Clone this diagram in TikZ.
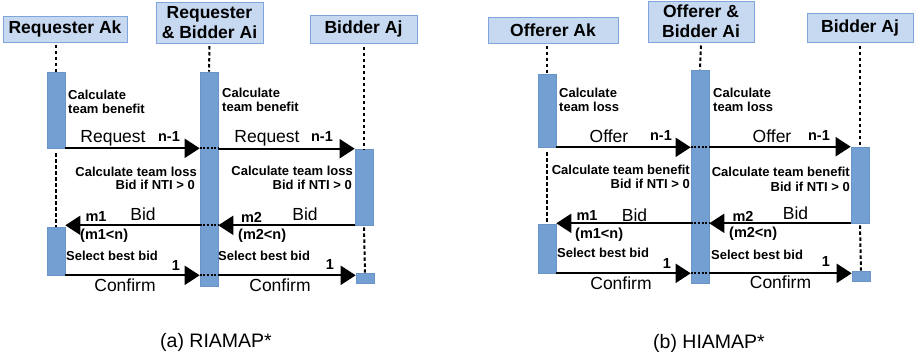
\documentclass[tikz,border=0pt]{standalone}
\usepackage{fontspec}
\setmainfont{Liberation Sans}
\usetikzlibrary{arrows.meta}
\definecolor{hdrfill}{HTML}{C6D9F1}
\definecolor{hdrdraw}{HTML}{7EA6DA}
\definecolor{barfill}{HTML}{739FD2}
\definecolor{bardraw}{HTML}{6A93C8}
\newcommand{\fs}[1]{\fontsize{#1}{#1}\selectfont}
\tikzset{
  hdr/.style={draw=hdrdraw, fill=hdrfill, line width=1pt, inner sep=0pt, align=center,
    font=\fontsize{17.5}{20}\selectfont\bfseries},
  bar/.style={draw=bardraw, fill=barfill, line width=0.6pt, inner sep=0pt, minimum width=18pt},
  life/.style={line width=2pt, dash pattern=on 3.5pt off 2.5pt},
  msg/.style={line width=1.8pt, -{Triangle[length=15pt,width=19pt]}},
  dots/.style={line width=2pt, dash pattern=on 2pt off 1.6pt},
  lbl/.style={inner sep=0pt, font=\fs{17.5}},
  tag/.style={inner sep=0pt, font=\fs{14.5}\bfseries},
  note/.style={inner sep=0pt, font=\fontsize{13}{14}\selectfont\bfseries},
  captext/.style={inner sep=0pt, font=\fs{19.5}},
}
\begin{document}
\begin{tikzpicture}[x=1pt,y=-1pt]
\useasboundingbox (0,0) rectangle (917,360);
% ================= panel (a) =================
\node[hdr, minimum width=124pt, minimum height=26pt] (hak) at (65,29) {Requester Ak};
\node[hdr, minimum width=107pt, minimum height=41pt] (hai) at (209.5,23) {Requester\\\& Bidder Ai};
\node[hdr, minimum width=107pt, minimum height=28pt] (haj) at (363.5,29) {Bidder Aj};
\node[bar, minimum height=76pt] (akb1) at (56,110) {};
\node[bar, minimum height=48pt] (akb2) at (56,251) {};
\node[bar, minimum height=214pt] (aib) at (209,179) {};
\node[bar, minimum height=76pt] (ajb) at (364,187) {};
\node[bar, minimum height=10pt] (ajs) at (365,278) {};
% lifelines
\draw[life] (akb1.north |- hak.south) ++(0,2) -- (akb1.north);
\draw[life] (akb1.south) ++(0,5) -- (akb2.north);
\draw[life] (hai.south) ++(0,2) -- (aib.north);
\draw[life] (ajb.north |- haj.south) ++(0,3) -- (ajb.north);
\draw[life] (ajb.south) ++(0,2) -- (ajs.north);
% messages
\draw[msg] (akb1.south east) -- (aib.west |- akb1.south east);
\draw[dots] (aib.west |- akb1.south) -- (aib.east |- akb1.south);
\draw[msg] (aib.east |- ajb.north) -- (ajb.north west);
\draw[msg] (ajb.south west) -- (aib.east |- ajb.south);
\draw[dots] (aib.west |- ajb.south) -- (aib.east |- ajb.south);
\draw[msg] (aib.west |- ajb.south) -- (akb2.east |- ajb.south);
\draw[msg] (akb2.south east) -- (aib.west |- akb2.south);
\draw[dots] (aib.west |- akb2.south) -- (aib.east |- akb2.south);
\draw[msg] (aib.east |- akb2.south) -- (ajs.west |- akb2.south);
% labels
\node[note, align=left, anchor=west] (ta1) at (68,101.5) {Calculate\\team benefit};
\node[note, align=left, anchor=west] (ta2) at (222,99.5) {Calculate\\team benefit};
\node[lbl] (ra1) at (113,138) {Request};
\node[tag] (na1) at (169,137) {n-1};
\node[lbl] (ra2) at (267,138) {Request};
\node[tag] (na2) at (322,137) {n-1};
\node[note, anchor=east] (la1) at (197,172) {Calculate team loss};
\node[note, anchor=east] (ba1) at (195,185) {Bid if NTI > 0};
\node[note, anchor=east] (la2) at (353,171) {Calculate team loss};
\node[note, anchor=east] (ba2) at (352,185) {Bid if NTI > 0};
\node[lbl] (bd1) at (143,214) {Bid};
\node[tag] (m1) at (96,217) {m1};
\node[tag, anchor=west] (c1) at (80,236) {(m1<n)};
\node[lbl] (bd2) at (305,214) {Bid};
\node[tag] (m2) at (251.5,217) {m2};
\node[tag, anchor=west] (c2) at (238,236) {(m2<n)};
\node[note, anchor=west] (s1) at (66,256) {Select best bid};
\node[note, anchor=west] (s2) at (218,256) {Select best bid};
\node[tag] (o1) at (176,266) {1};
\node[tag] (o2) at (330,265) {1};
\node[lbl] (cf1) at (125,285) {Confirm};
\node[lbl] (cf2) at (280,285) {Confirm};
\node[captext] (capa) at (216,342) {(a) RIAMAP*};
% ================= panel (b) =================
\node[hdr, minimum width=130pt, minimum height=26pt] (hok) at (553,30) {Offerer Ak};
\node[hdr, minimum width=106pt, minimum height=41pt] (hoi) at (701,21.5) {Offerer \&\\Bidder Ai};
\node[hdr, minimum width=106pt, minimum height=29pt] (hbj) at (860,27.5) {Bidder Aj};
\node[bar, minimum height=73pt] (okb1) at (547,110.5) {};
\node[bar, minimum height=49pt] (okb2) at (547,248.5) {};
\node[bar, minimum height=213pt] (oib) at (700,176.5) {};
\node[bar, minimum height=76pt] (bjb) at (860,185) {};
\node[bar, minimum height=10pt] (bjs) at (861,276) {};
% lifelines
\draw[life] (okb1.north |- hok.south) ++(0,2) -- (okb1.north);
\draw[life] (okb1.south) ++(0,5) -- (okb2.north);
\draw[life] (hoi.south) ++(0,3) -- (oib.north);
\draw[life] (bjb.north |- hbj.south) ++(0,3) -- (bjb.north);
\draw[life] (bjb.south) ++(0,2) -- (bjs.north);
% messages
\draw[msg] (okb1.south east) -- (oib.west |- okb1.south east);
\draw[dots] (oib.west |- okb1.south) -- (oib.east |- okb1.south);
\draw[msg] (oib.east |- bjb.north) -- (bjb.north west);
\draw[msg] (bjb.south west) -- (oib.east |- bjb.south);
\draw[dots] (oib.west |- bjb.south) -- (oib.east |- bjb.south);
\draw[msg] (oib.west |- bjb.south) -- (okb2.east |- bjb.south);
\draw[msg] (okb2.south east) -- (oib.west |- okb2.south);
\draw[dots] (oib.west |- okb2.south) -- (oib.east |- okb2.south);
\draw[msg] (oib.east |- okb2.south) -- (bjs.west |- okb2.south);
% labels
\node[note, align=left, anchor=west] (tb1) at (559,100) {Calculate\\team loss};
\node[note, align=left, anchor=west] (tb2) at (713,99.5) {Calculate\\team loss};
\node[lbl] (of1) at (609,136) {Offer};
\node[tag] (nb1) at (661,136) {n-1};
\node[lbl] (of2) at (772,136) {Offer};
\node[tag] (nb2) at (819,136) {n-1};
\node[note, anchor=east] (lb1) at (690,170) {Calculate team benefit};
\node[note, anchor=east] (bb1) at (690,184) {Bid if NTI > 0};
\node[note, anchor=east] (lb2) at (850,172) {Calculate team benefit};
\node[note, anchor=east] (bb2) at (850,187) {Bid if NTI > 0};
\node[lbl] (bd3) at (634.5,215) {Bid};
\node[tag] (m3) at (587,216) {m1};
\node[tag, anchor=west] (c3) at (575,235) {(m1<n)};
\node[lbl] (bd4) at (795.5,213) {Bid};
\node[tag] (m4) at (743,216) {m2};
\node[tag, anchor=west] (c4) at (729,234) {(m2<n)};
\node[note, anchor=west] (s3) at (557,253) {Select best bid};
\node[note, anchor=west] (s4) at (711,255) {Select best bid};
\node[tag] (o3) at (667,264) {1};
\node[tag] (o4) at (826,262) {1};
\node[lbl] (cf3) at (621,283) {Confirm};
\node[lbl] (cf4) at (780.5,282) {Confirm};
\node[captext] (capb) at (709,343) {(b) HIAMAP*};
\end{tikzpicture}
\end{document}
